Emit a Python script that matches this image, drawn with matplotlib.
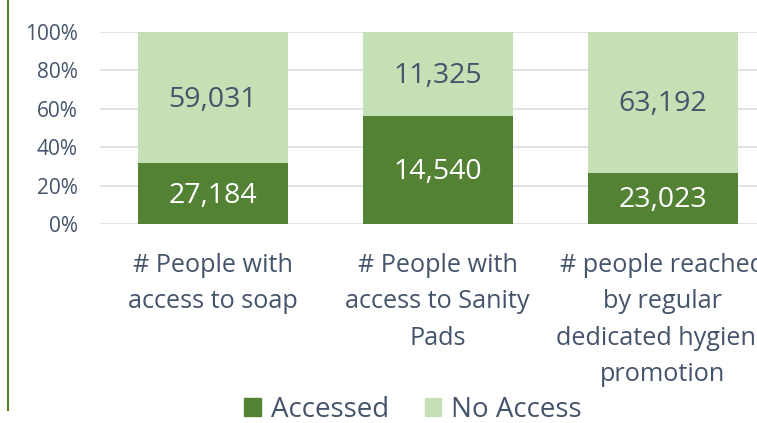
import matplotlib
matplotlib.use("Agg")
import matplotlib.pyplot as plt
from matplotlib.lines import Line2D
from matplotlib.patches import Patch

categories = ["# People with\naccess to soap",
              "# People with\naccess to Sanity\nPads",
              "# people reached\nby regular\ndedicated hygiene\npromotion"]
accessed = [27184, 14540, 23023]
no_access = [59031, 11325, 63192]
yticks = [0, 20, 40, 60, 80, 100]

dark = "#548235"
light = "#C5E0B4"
txt = "#44546A"
plt.rcParams['font.family'] = ['Open Sans', 'DejaVu Sans']

fig = plt.figure(figsize=(7.57, 4.23), dpi=100)
ax = fig.add_axes([100/757, (423-224)/423, 675/757, 192/423])

tot = [a + n for a, n in zip(accessed, no_access)]
pa = [100 * a / t for a, t in zip(accessed, tot)]
pn = [100 * n / t for n, t in zip(no_access, tot)]
x = list(range(len(categories)))
ax.bar(x, pa, width=2/3, color=dark, zorder=3)
ax.bar(x, pn, bottom=pa, width=2/3, color=light, zorder=3)
for i in x:
    ax.text(i, pa[i] / 2 - 1, f"{accessed[i]:,}", ha='center', va='center',
            color='white', fontsize=20.5, zorder=4)
    ax.text(i, pa[i] + pn[i] / 2 - 1, f"{no_access[i]:,}", ha='center', va='center',
            color=txt, fontsize=20.5, zorder=4)

ax.set_xlim(-0.5, 2.5)
ax.set_ylim(0, 100)
ax.set_yticks(yticks)
ax.set_yticklabels([f"{v}%" for v in yticks])
ax.set_xticks(x)
ax.set_xticklabels(categories, linespacing=1.59)
ax.tick_params(axis='y', length=0, labelsize=15, labelcolor=txt, pad=16)
ax.tick_params(axis='x', length=0, labelsize=18.2, labelcolor=txt, pad=21)
for s in ax.spines.values():
    s.set_visible(False)
ax.grid(axis='y', color='#D9DDE3', linewidth=1.2, zorder=0)

handles = [Patch(color=dark, label="Accessed"), Patch(color=light, label="No Access")]
fig.legend(handles=handles, loc='center', bbox_to_anchor=(413/757, 1 - 410/423),
           ncol=2, frameon=False, fontsize=20, labelcolor=txt,
           handlelength=0.6, handleheight=0.6, handletextpad=0.35, columnspacing=1.3,
           borderpad=0, borderaxespad=0)

fig.add_artist(Line2D([8/757, 8/757], [1, 1 - 410/423], color=dark, linewidth=1.5,
                      transform=fig.transFigure))

fig.savefig("out.png", dpi=100)
